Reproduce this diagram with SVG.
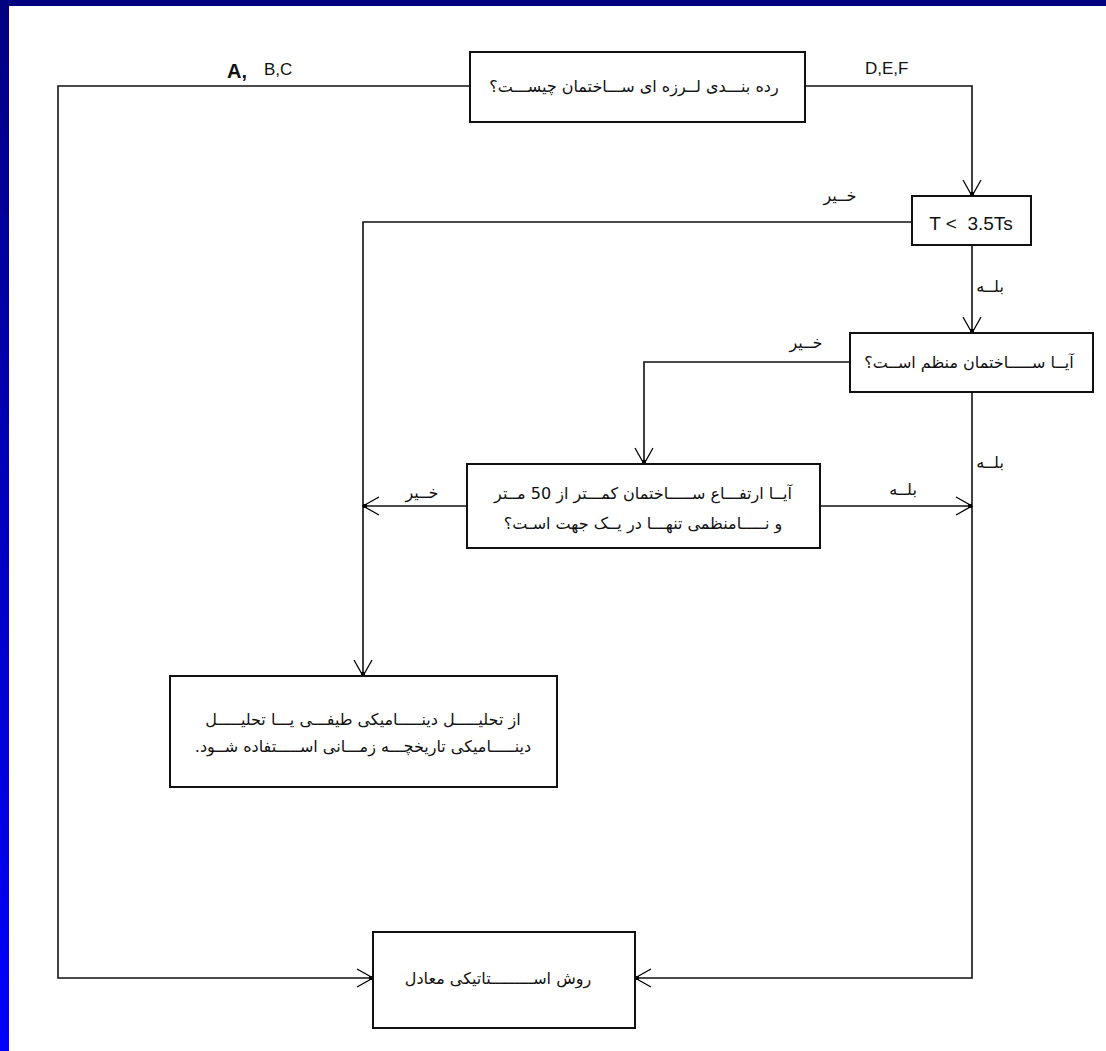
<svg xmlns="http://www.w3.org/2000/svg" width="1106" height="1051" viewBox="0 0 1106 1051">
<defs>
<linearGradient id="lg" x1="0" y1="0" x2="0" y2="1">
<stop offset="0" stop-color="#000080"/>
<stop offset="1" stop-color="#0000FF"/>
</linearGradient>
<marker id="arr" markerUnits="userSpaceOnUse" markerWidth="24" markerHeight="24" refX="20" refY="12" orient="auto" overflow="visible">
<path d="M4,3 L20,12 L4,21" fill="none" stroke="#000" stroke-width="1.3"/>
<rect x="16" y="10" width="4" height="4" fill="#000"/>
</marker>
<style>
.box{fill:#fff;stroke:#111;stroke-width:2}
.ln{fill:none;stroke:#111;stroke-width:1.6}
.fa{font-family:"DejaVu Sans","Noto Sans",sans-serif;font-size:16px;fill:#111;text-anchor:middle;direction:rtl}
.la{font-family:"Liberation Sans",Arial,sans-serif;fill:#111}
</style>
</defs>
<rect x="0" y="0" width="1106" height="1051" fill="#fff"/>
<rect x="0" y="0" width="1106" height="6" fill="#000080"/>
<rect x="0" y="0" width="9" height="1051" fill="url(#lg)"/>

<g id="connectors">
<path class="ln" d="M470,86 H58 V978 H373" marker-end="url(#arr)"/>
<path class="ln" d="M805,86 H972 V196" marker-end="url(#arr)"/>
<path class="ln" d="M912,222 H363 V676" marker-end="url(#arr)"/>
<path class="ln" d="M972,245 V333" marker-end="url(#arr)"/>
<path class="ln" d="M850,362 H644 V464" marker-end="url(#arr)"/>
<path class="ln" d="M972,392 V978 H635" marker-end="url(#arr)"/>
<path class="ln" d="M467,506 H363" marker-end="url(#arr)"/>
<path class="ln" d="M820,506 H972" marker-end="url(#arr)"/>
</g>

<g id="labels">
<text class="la" x="227" y="78" font-size="20" font-weight="bold">A,</text>
<text class="la" x="264" y="75" font-size="17">B,C</text>
<text class="la" x="865" y="74" font-size="17">D,E,F</text>
<text class="fa" x="840" y="201">خــیر</text>
<text class="fa" x="990" y="292">بلــه</text>
<text class="fa" x="806" y="348">خــیر</text>
<text class="fa" x="990" y="468">بلــه</text>
<text class="fa" x="422" y="498">خــیر</text>
<text class="fa" x="903" y="495">بلــه</text>
</g>

<g id="n1">
<rect class="box" x="470" y="52" width="335" height="70"/>
<text class="fa" x="634" y="92">رده بنـــدی لــرزه ای ســـاختمان چیســـت؟</text>
</g>
<g id="n2">
<rect class="box" x="912" y="196" width="119" height="49"/>
<text class="la" x="971" y="230" font-size="19" text-anchor="middle" xml:space="preserve">T &lt;  3.5Ts</text>
</g>
<g id="n3">
<rect class="box" x="850" y="333" width="243" height="59"/>
<text class="fa" x="969" y="368">آیــا ســـــاختمان منظم اســت؟</text>
</g>
<g id="n4">
<rect class="box" x="467" y="464" width="353" height="84"/>
<text class="fa" x="643" y="499">آیــا ارتفـــاع ســـــاختمان کمـــتر از 50 مــتر</text>
<text class="fa" x="643" y="529">و نـــــامنظمی تنهـــا در یــک جهت اسـت؟</text>
</g>
<g id="n5">
<rect class="box" x="170" y="676" width="387" height="111"/>
<text class="fa" x="363" y="725">از تحلیـــــل دینـــــامیکی طیفـــی یـــا تحلیـــــل</text>
<text class="fa" x="363" y="752">دینـــــامیکی تاریخچـــه زمـــانی اســـــتفاده شــود.</text>
</g>
<g id="n6">
<rect class="box" x="373" y="932" width="262" height="96"/>
<text class="fa" x="498" y="984">روش اســـــــــتاتیکی معادل</text>
</g>
</svg>
